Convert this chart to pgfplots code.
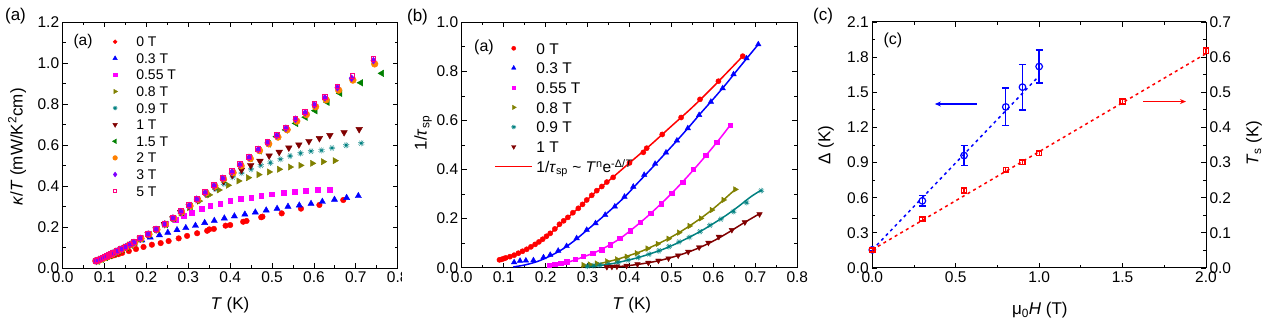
\documentclass[border=0pt]{standalone}
\usepackage{pgfplots}
\pgfplotsset{compat=1.18}
\usepackage{fontspec}
\setmainfont{Liberation Sans}
\usetikzlibrary{plotmarks,arrows.meta}
\definecolor{cRed}{RGB}{255,0,0}
\definecolor{cBlue}{RGB}{0,0,255}
\definecolor{cMag}{RGB}{255,0,255}
\definecolor{cOlive}{RGB}{128,128,0}
\definecolor{cTeal}{RGB}{0,128,128}
\definecolor{cDRed}{RGB}{128,0,0}
\definecolor{cGreen}{RGB}{0,128,0}
\definecolor{cOrange}{RGB}{255,128,0}
\definecolor{cPurple}{RGB}{128,0,255}
\definecolor{cPink}{RGB}{255,0,128}
\pgfplotsset{
  base/.style={
    scale only axis, width=335pt, height=246pt,
    anchor=south west, clip=false,
    axis line style={line width=1pt, black},
    tick align=inside,
    major tick length=5pt, minor tick length=3pt,
    every tick/.style={black, line width=0.8pt},
    tick label style={font=\fontsize{15.5}{18}\selectfont},
    label style={font=\fontsize{17}{20}\selectfont},
    /pgf/number format/assume math mode=true,
    xticklabel style={/pgf/number format/.cd, fixed, fixed zerofill, precision=1},
    yticklabel style={/pgf/number format/.cd, fixed, fixed zerofill, precision=1},
  },
  legA/.style={
    legend style={at={(axis description cs:0.132,0.9415)}, anchor=north west,
      draw=none, fill=none, inner sep=0pt, outer sep=0pt, row sep=6.6pt,
      font=\fontsize{14}{16}\selectfont,
      nodes={inner sep=0pt, text height=10pt, text depth=0pt}},
    legend cell align=left,
    legend image code/.code={\draw[mark repeat=2,mark phase=2,##1] plot coordinates {(0pt,0pt)(8pt,0pt)(16pt,0pt)}; \path (0pt,0pt) (29pt,0pt);},
    legend image post style={every mark/.append style={scale=0.7}},
  },
  legB/.style={
    legend style={at={(axis description cs:0.0983,0.9175)}, anchor=north west,
      draw=none, fill=none, inner sep=0pt, outer sep=0pt, row sep=8.2pt,
      font=\fontsize{15.5}{18}\selectfont,
      nodes={inner sep=0pt, text height=11.5pt, text depth=0pt}},
    legend cell align=left,
    legend image code/.code={\draw[mark repeat=2,mark phase=2,##1] plot coordinates {(0pt,0pt)(18.3pt,0pt)(36.6pt,0pt)}; \path (0pt,0pt) (40.3pt,0pt);},
    legend image post style={every mark/.append style={scale=0.8}},
  },
}
\begin{document}
\begin{tikzpicture}[x=1pt,y=1pt]
\useasboundingbox (0,0) rectangle (1269,329);
% ================= panel (a)
\begin{axis}[base, legA, at={(62.7pt,60.7pt)},
  xmin=0, xmax=0.8, ymin=0, ymax=1.2,
  xtick={0,0.1,0.2,0.3,0.4,0.5,0.6,0.7,0.8}, ytick={0,0.2,0.4,0.6,0.8,1.0,1.2},
  minor x tick num=1, minor y tick num=1,
  xlabel={\textit{T} (K)}, ylabel={\textit{κ}/\textit{T} (mW/K\textsuperscript{2}cm)},
  xlabel style={at={(axis description cs:0.4994,-0.149)}, anchor=center},
  ylabel style={at={(axis description cs:-0.1364,0.493)}, anchor=center},
]
\addplot[only marks, mark=*, mark size=2.8pt, cRed, mark options={draw=cRed, fill=cRed}] coordinates {
(0.078,0.036)(0.085,0.040)(0.092,0.044)(0.100,0.049)(0.108,0.054)(0.116,0.059)(0.124,0.064)(0.133,0.069)(0.142,0.075)(0.158,0.084)(0.175,0.094)(0.193,0.104)(0.213,0.115)(0.234,0.123)(0.253,0.133)(0.277,0.146)(0.297,0.158)(0.321,0.171)(0.345,0.183)(0.350,0.190)(0.361,0.192)(0.389,0.208)(0.400,0.211)(0.431,0.227)(0.439,0.231)(0.474,0.249)(0.477,0.252)(0.523,0.268)(0.569,0.291)(0.613,0.309)(0.670,0.333)};
\addlegendentry{0 T}
\addplot[only marks, mark=triangle*, mark size=3.6pt, cBlue] coordinates {
(0.080,0.036)(0.090,0.045)(0.100,0.054)(0.110,0.063)(0.120,0.072)(0.130,0.082)(0.140,0.091)(0.150,0.100)(0.160,0.110)(0.170,0.120)(0.189,0.137)(0.209,0.151)(0.231,0.162)(0.251,0.174)(0.273,0.187)(0.294,0.197)(0.317,0.208)(0.339,0.222)(0.362,0.232)(0.386,0.244)(0.410,0.254)(0.435,0.263)(0.460,0.273)(0.486,0.283)(0.512,0.291)(0.538,0.301)(0.565,0.307)(0.593,0.315)(0.620,0.325)(0.649,0.335)(0.678,0.344)(0.706,0.353)};
\addlegendentry{0.3 T}
\addplot[only marks, mark=square*, mark size=2.4pt, cMag] coordinates {
(0.080,0.036)(0.090,0.045)(0.100,0.054)(0.110,0.064)(0.120,0.074)(0.130,0.084)(0.140,0.094)(0.150,0.104)(0.160,0.115)(0.170,0.125)(0.185,0.145)(0.204,0.165)(0.225,0.192)(0.247,0.216)(0.269,0.236)(0.289,0.257)(0.309,0.273)(0.331,0.290)(0.352,0.304)(0.376,0.317)(0.400,0.329)(0.425,0.340)(0.450,0.344)(0.474,0.353)(0.500,0.361)(0.527,0.367)(0.554,0.374)(0.581,0.377)(0.608,0.383)(0.638,0.385)};
\addlegendentry{0.55 T}
\addplot[only marks, mark=triangle*, mark size=3.6pt, cOlive, mark options={rotate=-90}] coordinates {
(0.080,0.036)(0.090,0.045)(0.100,0.054)(0.110,0.064)(0.120,0.074)(0.130,0.084)(0.140,0.094)(0.150,0.104)(0.160,0.114)(0.170,0.125)(0.185,0.144)(0.204,0.166)(0.223,0.189)(0.243,0.215)(0.263,0.243)(0.282,0.270)(0.302,0.296)(0.326,0.328)(0.350,0.358)(0.373,0.382)(0.395,0.405)(0.420,0.426)(0.443,0.442)(0.468,0.457)(0.493,0.470)(0.517,0.483)(0.543,0.494)(0.568,0.502)(0.596,0.512)(0.622,0.520)(0.650,0.525)};
\addlegendentry{0.8 T}
\addplot[only marks, mark=10-pointed star, mark size=3.2pt, cTeal] coordinates {
(0.080,0.036)(0.090,0.045)(0.100,0.054)(0.110,0.064)(0.120,0.074)(0.130,0.084)(0.140,0.094)(0.150,0.104)(0.160,0.114)(0.170,0.125)(0.185,0.144)(0.204,0.166)(0.223,0.189)(0.243,0.215)(0.263,0.243)(0.282,0.272)(0.302,0.300)(0.322,0.330)(0.343,0.360)(0.364,0.388)(0.385,0.413)(0.406,0.445)(0.427,0.465)(0.450,0.484)(0.473,0.502)(0.496,0.515)(0.520,0.532)(0.543,0.548)(0.568,0.561)(0.593,0.571)(0.618,0.575)(0.643,0.587)(0.677,0.600)(0.713,0.610)};
\addlegendentry{0.9 T}
\addplot[only marks, mark=triangle*, mark size=3.8pt, cDRed, mark options={rotate=180}] coordinates {
(0.080,0.036)(0.090,0.045)(0.100,0.054)(0.110,0.064)(0.120,0.074)(0.130,0.084)(0.140,0.094)(0.150,0.104)(0.160,0.114)(0.170,0.125)(0.185,0.144)(0.204,0.166)(0.223,0.189)(0.243,0.215)(0.263,0.243)(0.282,0.273)(0.302,0.303)(0.322,0.333)(0.342,0.363)(0.363,0.395)(0.384,0.425)(0.405,0.455)(0.427,0.480)(0.449,0.502)(0.471,0.523)(0.493,0.549)(0.517,0.567)(0.540,0.588)(0.564,0.603)(0.588,0.620)(0.613,0.634)(0.638,0.649)(0.672,0.663)(0.708,0.678)};
\addlegendentry{1 T}
\addplot[only marks, mark=triangle*, mark size=3.8pt, cGreen, mark options={rotate=90}] coordinates {
(0.083,0.035)(0.093,0.044)(0.103,0.053)(0.113,0.063)(0.123,0.073)(0.133,0.083)(0.143,0.093)(0.153,0.103)(0.163,0.113)(0.173,0.124)(0.188,0.143)(0.207,0.165)(0.226,0.188)(0.246,0.214)(0.266,0.242)(0.285,0.272)(0.305,0.302)(0.323,0.333)(0.343,0.365)(0.364,0.399)(0.385,0.434)(0.407,0.465)(0.426,0.500)(0.448,0.535)(0.470,0.573)(0.492,0.607)(0.511,0.642)(0.533,0.675)(0.557,0.707)(0.580,0.737)(0.603,0.769)(0.632,0.810)(0.662,0.854)(0.712,0.905)(0.762,0.951)};
\addlegendentry{1.5 T}
\addplot[only marks, mark=*, mark size=3.4pt, cOrange, mark options={draw=cOrange, fill=cOrange}] coordinates {
(0.082,0.036)(0.087,0.040)(0.092,0.045)(0.097,0.049)(0.102,0.054)(0.107,0.059)(0.112,0.064)(0.117,0.069)(0.122,0.074)(0.132,0.084)(0.142,0.094)(0.152,0.104)(0.162,0.115)(0.172,0.126)(0.187,0.145)(0.206,0.166)(0.225,0.189)(0.245,0.215)(0.265,0.244)(0.284,0.274)(0.304,0.304)(0.322,0.335)(0.342,0.367)(0.363,0.400)(0.384,0.435)(0.407,0.466)(0.426,0.500)(0.448,0.535)(0.470,0.574)(0.492,0.607)(0.514,0.640)(0.536,0.676)(0.559,0.718)(0.582,0.750)(0.604,0.788)(0.629,0.822)(0.659,0.869)(0.693,0.918)(0.745,0.997)};
\addlegendentry{2 T}
\addplot[only marks, mark=diamond*, mark size=3.5pt, cPurple] coordinates {
(0.080,0.036)(0.085,0.040)(0.090,0.045)(0.095,0.049)(0.100,0.054)(0.105,0.059)(0.110,0.064)(0.115,0.069)(0.120,0.074)(0.130,0.084)(0.140,0.094)(0.150,0.104)(0.160,0.115)(0.170,0.126)(0.185,0.146)(0.204,0.167)(0.223,0.190)(0.243,0.216)(0.263,0.245)(0.282,0.276)(0.302,0.306)(0.320,0.337)(0.340,0.369)(0.361,0.403)(0.382,0.439)(0.404,0.470)(0.423,0.505)(0.445,0.541)(0.467,0.580)(0.489,0.613)(0.511,0.647)(0.533,0.683)(0.556,0.727)(0.579,0.759)(0.601,0.797)(0.626,0.832)(0.656,0.881)(0.690,0.927)(0.742,1.013)};
\addlegendentry{3 T}
\addplot[only marks, mark=square, mark size=2.4pt, cPink, mark options={line width=0.9pt}] coordinates {
(0.080,0.037)(0.085,0.041)(0.090,0.046)(0.095,0.050)(0.100,0.055)(0.105,0.060)(0.110,0.065)(0.115,0.070)(0.120,0.075)(0.130,0.085)(0.140,0.095)(0.150,0.105)(0.160,0.116)(0.170,0.127)(0.185,0.147)(0.204,0.169)(0.223,0.192)(0.243,0.218)(0.263,0.247)(0.282,0.278)(0.302,0.308)(0.320,0.339)(0.340,0.371)(0.361,0.405)(0.382,0.441)(0.404,0.473)(0.423,0.508)(0.445,0.545)(0.467,0.584)(0.489,0.617)(0.511,0.651)(0.533,0.687)(0.556,0.731)(0.579,0.763)(0.601,0.801)(0.626,0.837)(0.656,0.887)(0.692,0.940)(0.742,1.022)};
\addlegendentry{5 T}
\node[font=\fontsize{15.5}{18}\selectfont] at (axis description cs:0.0606,0.920) {(a)};
\end{axis}
\fill[white] (402,0) rectangle (460,329);
\node[font=\fontsize{17}{20}\selectfont] at (15.5,312.5) {(a)};
% ================= panel (b)
\begin{axis}[base, legB, at={(461.7pt,61.3pt)}, width=335.6pt, height=245.4pt,
  xmin=0, xmax=0.8, ymin=0, ymax=1.0,
  xtick={0,0.1,0.2,0.3,0.4,0.5,0.6,0.7,0.8}, ytick={0,0.2,0.4,0.6,0.8,1.0},
  minor x tick num=1, minor y tick num=1,
  xlabel={\textit{T} (K)}, ylabel={1/\textit{τ}\textsubscript{sp}},
  xlabel style={at={(axis description cs:0.5066,-0.152)}, anchor=center},
  ylabel style={at={(axis description cs:-0.115,0.549)}, anchor=center},
]
\addplot[only marks, mark=*, mark size=2.6pt, cRed, mark options={draw=cRed, fill=cRed}] coordinates {
(0.090,0.032)(0.095,0.034)(0.100,0.037)(0.105,0.040)(0.115,0.045)(0.125,0.051)(0.135,0.059)(0.145,0.067)(0.155,0.075)(0.165,0.085)(0.175,0.095)(0.184,0.105)(0.193,0.116)(0.202,0.128)(0.211,0.140)(0.222,0.158)(0.233,0.177)(0.243,0.191)(0.253,0.205)(0.265,0.224)(0.278,0.242)(0.288,0.258)(0.298,0.276)(0.310,0.295)(0.322,0.314)(0.334,0.331)(0.346,0.349)(0.361,0.368)(0.400,0.427)(0.433,0.470)(0.441,0.487)(0.478,0.543)(0.523,0.612)(0.568,0.686)(0.612,0.760)(0.670,0.862)};
\addlegendentry{0 T}
\addplot[only marks, mark=triangle*, mark size=3.2pt, cBlue] coordinates {
(0.125,0.022)(0.139,0.028)(0.153,0.029)(0.171,0.030)(0.195,0.042)(0.211,0.052)(0.230,0.069)(0.250,0.088)(0.274,0.120)(0.298,0.154)(0.319,0.181)(0.342,0.215)(0.365,0.249)(0.388,0.289)(0.409,0.330)(0.435,0.378)(0.461,0.423)(0.487,0.469)(0.513,0.518)(0.539,0.568)(0.566,0.622)(0.594,0.676)(0.622,0.731)(0.648,0.788)(0.679,0.853)(0.707,0.910)};
\addlegendentry{0.3 T}
\addplot[only marks, mark=square*, mark size=2.2pt, cMag] coordinates {
(0.209,0.011)(0.222,0.014)(0.236,0.019)(0.250,0.025)(0.270,0.034)(0.290,0.046)(0.312,0.058)(0.334,0.074)(0.354,0.093)(0.377,0.120)(0.401,0.150)(0.425,0.185)(0.451,0.222)(0.475,0.260)(0.501,0.303)(0.527,0.348)(0.552,0.401)(0.582,0.459)(0.608,0.511)(0.640,0.581)};
\addlegendentry{0.55 T}
\addplot[only marks, mark=triangle*, mark size=3.2pt, cOlive, mark options={rotate=-90}] coordinates {
(0.290,0.011)(0.305,0.013)(0.322,0.017)(0.346,0.026)(0.370,0.034)(0.393,0.045)(0.417,0.059)(0.443,0.078)(0.467,0.097)(0.493,0.118)(0.518,0.143)(0.543,0.170)(0.570,0.201)(0.596,0.235)(0.624,0.276)(0.652,0.319)};
\addlegendentry{0.8 T}
\addplot[only marks, mark=10-pointed star, mark size=3pt, cTeal] coordinates {
(0.300,0.006)(0.315,0.008)(0.330,0.011)(0.350,0.015)(0.373,0.022)(0.397,0.031)(0.421,0.042)(0.447,0.055)(0.470,0.069)(0.494,0.086)(0.518,0.105)(0.543,0.124)(0.568,0.147)(0.592,0.173)(0.618,0.198)(0.648,0.228)(0.679,0.265)(0.714,0.314)};
\addlegendentry{0.9 T}
\addplot[only marks, mark=triangle*, mark size=3.2pt, cDRed, mark options={rotate=180}] coordinates {
(0.346,0.003)(0.358,0.004)(0.370,0.005)(0.393,0.008)(0.419,0.014)(0.445,0.020)(0.469,0.029)(0.493,0.038)(0.516,0.050)(0.540,0.065)(0.566,0.083)(0.588,0.102)(0.613,0.126)(0.644,0.154)(0.675,0.185)(0.710,0.218)};
\addlegendentry{1 T}
\addplot[cRed, line width=1.5pt, smooth] coordinates {
(0.088,0.030)(0.10,0.036)(0.12,0.047)(0.14,0.062)(0.16,0.080)(0.18,0.100)(0.20,0.125)(0.22,0.153)(0.24,0.185)(0.26,0.215)(0.28,0.246)(0.30,0.278)(0.33,0.325)(0.36,0.368)(0.40,0.427)(0.45,0.500)(0.50,0.577)(0.55,0.654)(0.60,0.738)(0.67,0.862)};
\addlegendentry{1/\textit{τ}\textsubscript{sp} \textasciitilde{} \textit{T}\textsuperscript{n}e\textsuperscript{-Δ/\textit{T}}}
\addplot[cBlue, line width=1.5pt, smooth, forget plot] coordinates {
(0.123,0.003)(0.15,0.011)(0.18,0.025)(0.21,0.047)(0.24,0.075)(0.27,0.112)(0.30,0.155)(0.33,0.198)(0.36,0.243)(0.39,0.291)(0.42,0.346)(0.45,0.400)(0.48,0.456)(0.51,0.512)(0.54,0.570)(0.57,0.630)(0.60,0.688)(0.63,0.748)(0.66,0.812)(0.707,0.910)};
\addplot[cMag, line width=1.5pt, smooth, forget plot] coordinates {
(0.205,0.004)(0.23,0.012)(0.26,0.026)(0.29,0.044)(0.32,0.064)(0.35,0.090)(0.38,0.122)(0.41,0.162)(0.44,0.205)(0.47,0.252)(0.50,0.302)(0.53,0.356)(0.56,0.413)(0.59,0.473)(0.62,0.536)(0.64,0.581)};
\addplot[cOlive, line width=1.5pt, smooth, forget plot] coordinates {
(0.285,0.004)(0.31,0.010)(0.34,0.021)(0.37,0.034)(0.40,0.050)(0.43,0.068)(0.46,0.091)(0.49,0.116)(0.52,0.145)(0.55,0.178)(0.58,0.214)(0.61,0.255)(0.652,0.319)};
\addplot[cTeal, line width=1.5pt, smooth, forget plot] coordinates {
(0.295,0.002)(0.33,0.009)(0.36,0.017)(0.39,0.028)(0.42,0.041)(0.45,0.057)(0.48,0.075)(0.51,0.097)(0.54,0.122)(0.57,0.149)(0.60,0.180)(0.63,0.213)(0.66,0.250)(0.69,0.290)(0.714,0.316)};
\addplot[cDRed, line width=1.5pt, smooth, forget plot] coordinates {
(0.340,0.001)(0.37,0.004)(0.40,0.009)(0.43,0.016)(0.46,0.025)(0.49,0.037)(0.52,0.052)(0.55,0.070)(0.58,0.092)(0.61,0.118)(0.64,0.148)(0.67,0.180)(0.71,0.220)};
\node[font=\fontsize{16}{19}\selectfont] at (axis description cs:0.0665,0.899) {(a)};
\end{axis}
\node[font=\fontsize{17}{20}\selectfont] at (417.5,312) {(b)};
% ================= panel (c)
\begin{axis}[base, at={(872.3pt,61pt)}, width=333.7pt, height=246pt,
  xmin=0, xmax=2, ymin=0, ymax=2.1, axis y line*=left,
  xtick={0,0.5,1,1.5,2}, ytick={0,0.3,0.6,0.9,1.2,1.5,1.8,2.1},
  minor x tick num=1, minor y tick num=1,
  xlabel={μ\textsubscript{0}\textit{H} (T)}, ylabel={Δ (K)},
  xlabel style={at={(axis description cs:0.502,-0.171)}, anchor=center},
  ylabel style={at={(axis description cs:-0.139,0.5)}, anchor=center},
]
\addplot[cBlue, line width=1.5pt, dash pattern=on 3pt off 3.5pt] coordinates {(0,0.155)(1.0,1.64)};
\addplot[cBlue, only marks, mark=o, mark size=3.3pt, mark options={line width=1.2pt, fill=white},
  error bars/.cd, y dir=both, y explicit,
  error bar style={line width=1.4pt},
  error mark options={rotate=90, mark size=3.5pt, line width=1.4pt}] coordinates {
(0,0.155) +- (0,0.01)
(0.3,0.573) +- (0,0.045)
(0.55,0.960) +- (0,0.087)
(0.8,1.375) +- (0,0.16)
(0.9,1.544) +- (0,0.195)
(1.0,1.720) +- (0,0.14)};
\draw[cBlue, line width=1.4pt, -{Stealth[length=6pt,width=5pt]}] (axis cs:0.625,1.40) -- (axis cs:0.375,1.40);
\draw[cRed, line width=1.4pt, -{Stealth[length=6pt,width=5pt]}] (axis cs:1.625,1.421) -- (axis cs:1.88,1.421);
\node[font=\fontsize{16}{19}\selectfont] at (axis description cs:0.062,0.927) {(c)};
\end{axis}
\begin{axis}[base, at={(872.3pt,61pt)}, width=333.7pt, height=246pt,
  xmin=0, xmax=2, ymin=0, ymax=0.7, axis y line*=right, axis x line=none,
  ytick={0,0.1,0.2,0.3,0.4,0.5,0.6,0.7}, minor y tick num=1,
  ylabel={\textit{T}\textsubscript{s} (K)},
  ylabel style={at={(axis description cs:1.144,0.508)}, anchor=center},
]
\addplot[cRed, line width=1.5pt, dash pattern=on 3pt off 3.5pt] coordinates {(0,0.052)(2.0,0.61)};
\addplot[cRed, only marks, mark=square, mark size=2.6pt, mark options={line width=1.2pt, fill=white},
  error bars/.cd, y dir=both, y explicit,
  error bar style={line width=1.2pt},
  error mark options={rotate=90, mark size=3pt, line width=1.2pt}] coordinates {
(0,0.051) +- (0,0.004)
(0.3,0.139) +- (0,0.004)
(0.55,0.220) +- (0,0.006)
(0.8,0.279) +- (0,0.006)
(0.9,0.301) +- (0,0.006)
(1.0,0.327) +- (0,0.006)
(1.5,0.474) +- (0,0.006)
(2.0,0.618) +- (0,0.008)};
\end{axis}
\node[font=\fontsize{17}{20}\selectfont] at (823,313) {(c)};
\end{tikzpicture}
\end{document}
